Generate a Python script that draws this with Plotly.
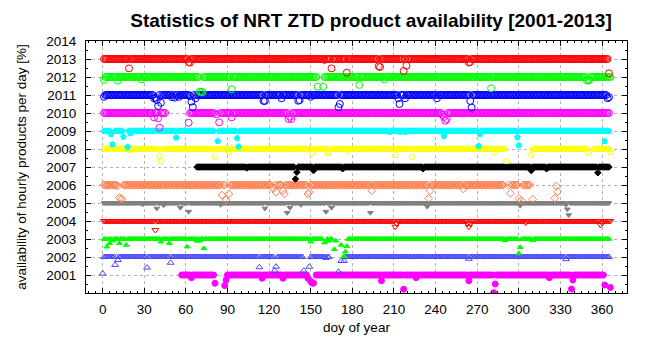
import plotly.graph_objects as go

# ---------------- data (availability in % per day of year) ----------------
YEARS = [2001, 2002, 2003, 2004, 2005, 2006, 2007, 2008, 2009, 2010, 2011, 2012, 2013]
FULL = 100  # full availability (the dense band at each year line)

# day spans (inclusive) with full availability
spans_2001 = [(57, 80), (90, 147), (154, 361)]
spans_2002 = [(1, 145), (150, 163), (175, 365)]
spans_2003 = [(1, 158), (162, 165), (177, 365)]
spans_2004 = [(1, 366)]
spans_2005 = [(1, 365)]
spans_2006 = [(1, 88), (92, 289), (293, 299), (302, 308)]
spans_2007 = [(68, 365)]
spans_2008 = [(1, 291), (309, 350), (354, 366)]
spans_2009 = [(1, 5), (9, 14), (19, 80), (84, 298), (301, 365)]
spans_2010 = [(1, 45), (62, 80), (84, 365)]
spans_2011 = [(1, 365)]
spans_2012 = [(1, 70), (73, 154), (160, 366)]
spans_2013 = [(1, 364)]

# days with reduced availability: (day, availability %)
dips_2001 = [(64, 85), (81, 54), (88, 41), (89, 72), (115, 82), (130, 82), (148, 82), (150, 65),
             (151, 55), (152, 54), (201, 68), (217, 21), (226, 85), (264, 68), (282, 2), (283, 50),
             (322, 85), (339, 72), (338, 22), (362, 44), (366, 31)]
dips_2002 = [(0, 8), (9, 56), (11, 83), (32, 41), (49, 68), (113, 43), (125, 46), (124, 24),
             (145, 24), (149, 46), (161, 95), (170, 18), (172, 78), (174, 78), (264, 90), (334, 88)]
dips_2003 = [(3, 57), (5, 76), (7, 90), (12, 76), (17, 67), (42, 85), (48, 76), (61, 57), (73, 48),
             (68, 90), (70, 90), (150, 85), (160, 80), (163, 90), (167, 43), (168, 90), (172, 67),
             (174, 6), (175, 30), (176, 60), (290, 92), (301, 54), (300, 20), (310, 92)]
dips_2004 = [(38, 50), (211, 68), (212, 85), (263, 85), (264, 68), (265, 85), (305, 92), (359, 78), (360, 90)]
dips_2005 = [(29, 93), (39, 70), (44, 88), (56, 74), (62, 52), (85, 90), (117, 70), (133, 46),
             (135, 74), (143, 90), (161, 52), (165, 74), (193, 46), (234, 80), (301, 85), (334, 90),
             (335, 65), (336, 33)]
dips_2006 = [(11, 95), (12, 30), (13, 24), (14, 20), (86, 44), (89, 17), (91, 50), (122, 90), (123, 80),
             (125, 60), (130, 68), (131, 50), (148, 50), (149, 60), (194, 68), (236, 68), (235, 26),
             (260, 78), (294, 54), (300, 26), (302, 13), (310, 20), (327, 94), (328, 63), (326, 26)]
dips_2007 = [(104, 95), (140, 71), (139, 33), (152, 80), (173, 90), (231, 90), (309, 80), (320, 90), (357, 68)]
dips_2008 = [(19, 94), (41, 61), (42, 33), (81, 57), (91, 83), (151, 76), (162, 80), (163, 80), (177, 90),
             (211, 67), (223, 57), (282, 80), (291, 33), (309, 67), (350, 80), (366, 83)]
dips_2009 = [(6, 83), (7, 26), (15, 68), (18, 11), (20, 87), (53, 63), (83, 44), (97, 60), (98, 13),
             (207, 95), (214, 95), (218, 95), (246, 72), (272, 83), (271, 17), (299, 65), (300, 20), (362, 44)]
dips_2010 = [(37, 76), (40, 71), (41, 18), (62, 46), (82, 93), (84, 48), (93, 76), (134, 67), (136, 67),
             (135, 80), (245, 90), (246, 78), (247, 57), (248, 67)]
dips_2011 = [(1, 90), (37, 82), (38, 85), (39, 72), (40, 39), (42, 57), (50, 88), (52, 85), (55, 90),
             (63, 94), (64, 63), (65, 32), (67, 82), (116, 67), (117, 67), (129, 82), (141, 68), (142, 72),
             (150, 90), (170, 32), (171, 50), (213, 82), (214, 50), (218, 82), (241, 82), (265, 67),
             (266, 30), (364, 82), (365, 88)]
dips_2012 = [(1, 85), (11, 80), (28, 87), (70, 18), (71, 18), (72, 16), (93, 32), (155, 46), (159, 46),
             (185, 56), (203, 87), (280, 37), (349, 82), (350, 80), (351, 85)]
dips_2013 = [(19, 48), (62, 83), (63, 80), (160, 95), (165, 48), (176, 24), (199, 60), (200, 55),
             (217, 33), (219, 63), (264, 80), (265, 83), (365, 20)]

SPANS = [spans_2001, spans_2002, spans_2003, spans_2004, spans_2005, spans_2006, spans_2007,
         spans_2008, spans_2009, spans_2010, spans_2011, spans_2012, spans_2013]
DIPS = [dips_2001, dips_2002, dips_2003, dips_2004, dips_2005, dips_2006, dips_2007,
        dips_2008, dips_2009, dips_2010, dips_2011, dips_2012, dips_2013]

# ---------------- styles ----------------
COLORS = ["#ff00ff", "#4848ff", "#00ff00", "#ff0000", "#808080", "#ff7f50", "#000000",
          "#ffff00", "#00ffff", "#ff00ff", "#0000ff", "#00ff00", "#ff0000"]
SYMBOLS = ["circle", "triangle-up-open", "triangle-up", "triangle-down-open", "triangle-down",
           "diamond-open", "diamond", "pentagon-open", "pentagon", "circle-open", "circle-open",
           "circle-open", "circle-open"]
SIZES = [6, 6, 5, 6, 5, 6, 5, 6, 6, 7, 7, 7, 7]

FONT = "Liberation Sans, Arial, sans-serif"

fig = go.Figure()
for year, spans, dips, col, sym, sz in zip(YEARS, SPANS, DIPS, COLORS, SYMBOLS, SIZES):
    dip_days = {d for d, _ in dips}
    xs, ys = [], []
    for a, b in spans:
        for d in range(a, b + 1):
            if d not in dip_days:
                xs.append(d)
                ys.append(year - 1 + FULL / 100)
    for d, v in dips:
        xs.append(d)
        ys.append(year - 1 + v / 100)
    fig.add_trace(go.Scatter(
        x=xs, y=ys, mode="markers", name=str(year), showlegend=False,
        marker=dict(symbol=sym, size=sz, color=col, line=dict(color=col, width=1)),
    ))

fig.update_layout(
    width=647, height=352,
    margin=dict(l=86, r=20, t=41, b=59),
    paper_bgcolor="white", plot_bgcolor="white",
    font=dict(family=FONT, size=13.5, color="black"),
    title=dict(text="<b>Statistics of NRT ZTD product availability [2001-2013]</b>",
               x=371 / 647, xanchor="center", y=1 - 20 / 352, yanchor="middle",
               font=dict(family=FONT, size=19, color="black")),
)
fig.update_xaxes(
    range=[-12, 378], tick0=0, dtick=30, ticks="inside", ticklen=5, tickcolor="black",
    showline=True, linecolor="black", linewidth=1, mirror="allticks",
    showgrid=True, gridcolor="#b4b4b4", griddash="dot", gridwidth=1, zeroline=False,
    ticklabelstandoff=4,
    minor=dict(dtick=5, ticks="inside", ticklen=2, tickcolor="black", showgrid=False),
    title=dict(text="doy of year", standoff=6, font=dict(size=13.5)),
)
fig.update_yaxes(
    range=[2000, 2014], tickvals=list(range(2001, 2015)), ticks="inside", ticklen=5, tickcolor="black",
    showline=True, linecolor="black", linewidth=1, mirror="allticks",
    showgrid=True, gridcolor="#b4b4b4", griddash="dot", gridwidth=1, zeroline=False,
    ticklabelstandoff=6,
    minor=dict(dtick=0.5, ticks="inside", ticklen=2, tickcolor="black", showgrid=False),
    title=dict(text="availability of hourly products per day [%]", standoff=16, font=dict(size=13.5)),
)

fig.write_html("out.html")
